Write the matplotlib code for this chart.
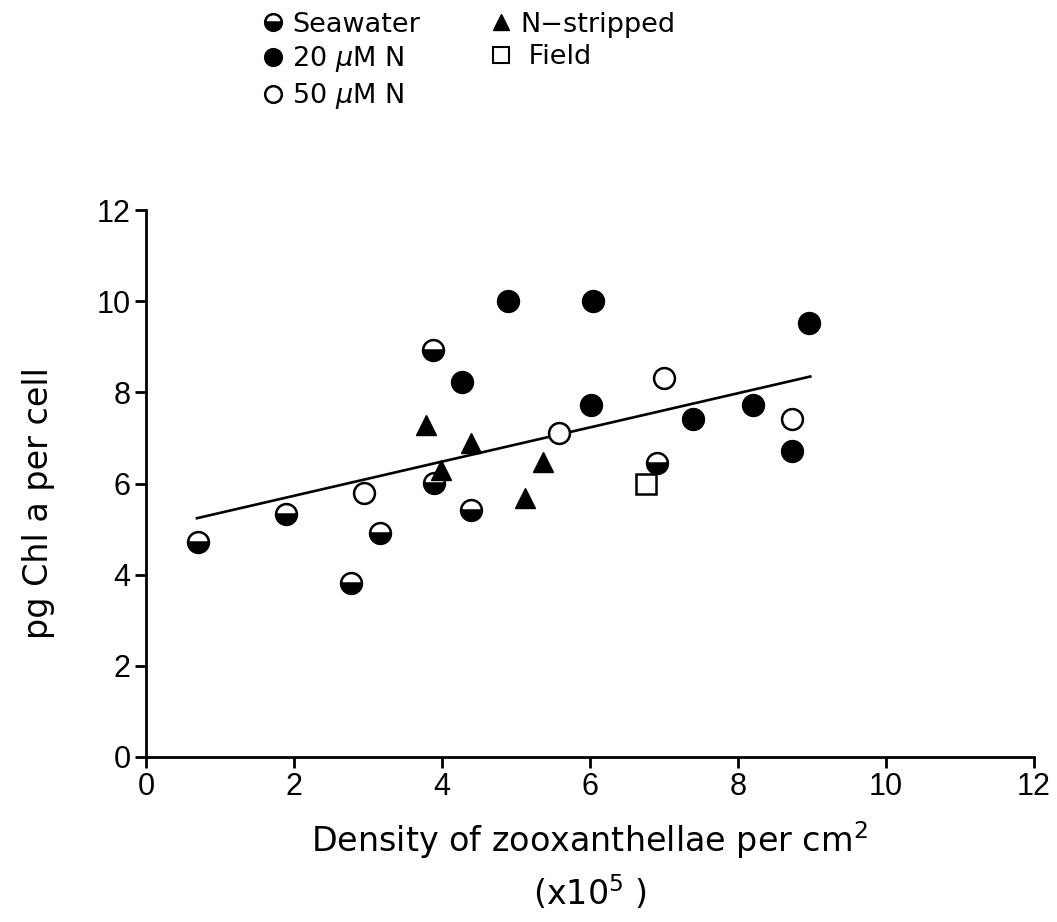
import matplotlib
matplotlib.use("Agg")
import matplotlib.pyplot as plt
from matplotlib.lines import Line2D

plt.rcParams['font.family'] = ['Liberation Sans', 'DejaVu Sans']
plt.rcParams['mathtext.fontset'] = 'dejavusans'

# data (x = density x10^5 per cm2, y = pg Chl a per cell)
sea_x = [0.71, 1.89, 2.77, 3.17, 3.88, 3.90, 4.40, 6.91]
sea_y = [4.71, 5.33, 3.82, 4.91, 8.93, 6.02, 5.42, 6.45]
n20_x = [4.90, 6.04, 8.96, 4.27, 6.02, 7.39, 8.20, 8.73]
n20_y = [10.0, 10.0, 9.52, 8.22, 7.72, 7.41, 7.72, 6.71]
n50_x = [2.95, 5.58, 7.00, 8.73]
n50_y = [5.80, 7.10, 8.31, 7.41]
strip_x = [3.79, 4.40, 3.99, 5.37, 5.13]
strip_y = [7.28, 6.88, 6.29, 6.47, 5.68]
field_x = [6.76]
field_y = [6.00]
# regression line end points
fit_x = [0.69, 8.98]
fit_y = [5.24, 8.35]

fig = plt.figure(figsize=(10.57, 9.22), dpi=100)
ax = fig.add_axes([0.138, 0.179, 0.840, 0.593])

ax.plot(fit_x, fit_y, color='black', lw=1.9, zorder=2)

ms = 15
mew = 1.8
ax.plot(sea_x, sea_y, 'o', ls='none', ms=ms, mew=mew, mec='black', mfc='black',
        fillstyle='bottom', markerfacecoloralt='white', zorder=3)
ax.plot(n20_x, n20_y, 'o', ls='none', ms=ms, mew=mew, mec='black', mfc='black', zorder=3)
ax.plot(n50_x, n50_y, 'o', ls='none', ms=ms, mew=mew, mec='black', mfc='white', zorder=3)
ax.plot(strip_x, strip_y, '^', ls='none', ms=14, mew=1, mec='black', mfc='black', zorder=3)
ax.plot(field_x, field_y, 's', ls='none', ms=14, mew=mew, mec='black', mfc='white', zorder=3)

ax.set_xlim(0, 12)
ax.set_ylim(0, 12)
ax.set_xticks(range(0, 13, 2))
ax.set_yticks(range(0, 13, 2))
for s in ['top', 'right']:
    ax.spines[s].set_visible(False)
for s in ['left', 'bottom']:
    ax.spines[s].set_linewidth(2)
ax.tick_params(direction='out', length=8, width=2, labelsize=22, pad=3)

lab_font = ['DejaVu Sans']
ax.set_ylabel('pg Chl a per cell', fontsize=24, family=lab_font)
ax.yaxis.set_label_coords(-0.102, 0.465)
ax.set_xlabel('Density of zooxanthellae per cm$^2$\n(x10$^5$ )', fontsize=24,
              labelpad=12, linespacing=1.4, family=lab_font)

handles = [
    Line2D([], [], marker='o', ls='none', ms=12, mew=mew, mec='black', mfc='black',
           fillstyle='bottom', markerfacecoloralt='white'),
    Line2D([], [], marker='o', ls='none', ms=12, mew=mew, mec='black', mfc='black'),
    Line2D([], [], marker='o', ls='none', ms=12, mew=mew, mec='black', mfc='white'),
    Line2D([], [], marker='^', ls='none', ms=12, mew=1, mec='black', mfc='black'),
    Line2D([], [], marker='s', ls='none', ms=12, mew=1.5, mec='black', mfc='white'),
]
labels = ['Seawater', r'20 $\mu$M N', r'50 $\mu$M N', 'N\u2212stripped', ' Field']
fig.legend(handles, labels, ncol=2, loc='upper left', bbox_to_anchor=(0.230, 1.008),
           frameon=False, prop={'family': lab_font, 'size': 19.5},
           handlelength=0.8, handletextpad=0.3,
           columnspacing=2.6, labelspacing=0.25, borderpad=0.2)

fig.savefig('out.png', dpi=100)
